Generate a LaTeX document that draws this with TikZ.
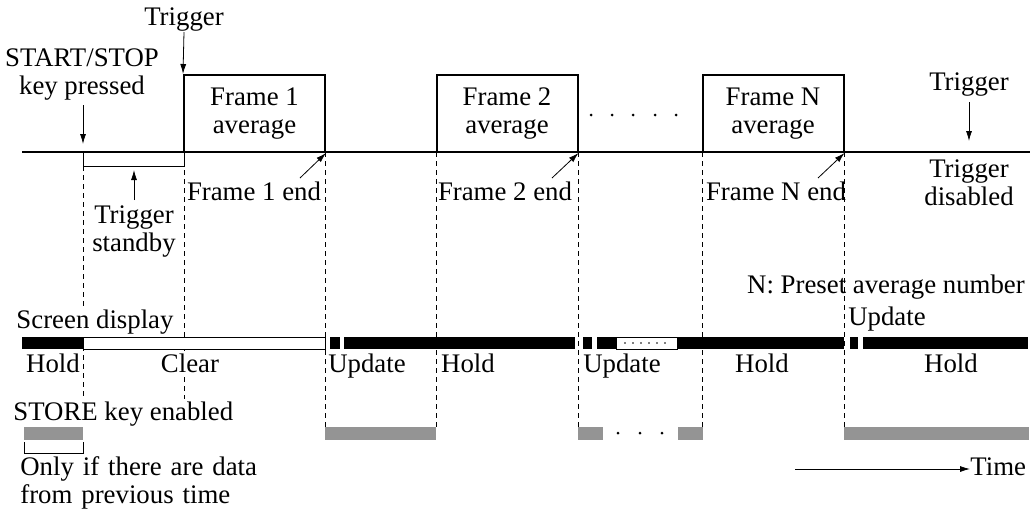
\documentclass[tikz,border=0pt]{standalone}
\usepackage{fontspec}
\setmainfont{Liberation Serif}
\usetikzlibrary{arrows.meta}

\begin{document}
\begin{tikzpicture}[x=0.5pt,y=-0.5pt,>={Latex[length=5pt,width=3pt]},
    font=\fontsize{13.4}{14}\selectfont,
    lbl/.style={inner sep=0pt,align=center},
    wlbl/.style={inner sep=1pt,fill=white},
    frm/.style={draw,line width=1pt,minimum width=70.5pt,minimum height=38.5pt,
      align=center,inner sep=0pt},
    vline/.style={line width=0.5pt,dash pattern=on 2.5pt off 2pt},
    hold/.style={fill=black},
    clr/.style={draw,fill=white,line width=0.5pt},
    store/.style={fill=black!42}]
  \useasboundingbox (0,0) rectangle (1033,510);

  % dashed time marks
  \draw[vline] (83,166) -- (83,405);
  \draw[vline] (184,152) -- (184,405);
  \foreach \x in {325,436,578,702,844}
    \draw[vline] (\x,152) -- (\x,427);

  % trigger line and frames
  \draw[line width=1pt] (22,152) -- (1030,152);
  \node[frm] (f1) at (254.5,113.5) {Frame 1\\average};
  \node[frm] (f2) at (507,113.5) {Frame 2\\average};
  \node[frm] (fN) at (773,113.5) {Frame N\\average};
  \foreach \x in {591,612,633,655,676}
    \fill (\x,115) circle (1.5);

  % labels on top
  \node[lbl,anchor=base] (trg) at (184,25) {Trigger};
  \coordinate (trgs) at (184,32);
  \draw[->] (trgs) -- (f1.north west);
  \node[lbl,anchor=base] (key) at (82,94) {START/STOP\\key pressed};
  \coordinate (keyp) at (83,144);
  \draw[->] (83,105) -- (keyp);
  \node[lbl,anchor=base] (trgN) at (969,90) {Trigger};
  \coordinate (trgNp) at (969,141);
  \draw[->] (969,102) -- (trgNp);
  \node[lbl,anchor=base] (dis) at (969,205) {Trigger\\disabled};

  % trigger standby
  \draw[line width=0.5pt] (83,152) |- (184,166) -- (184,152);
  \coordinate (sb) at (134,170);
  \node[lbl,anchor=base] (stb) at (134,251) {Trigger\\standby};
  \draw[->] (134,200) -- (sb);

  % frame end labels
  \node[lbl,anchor=base] (e1) at (254,200) {Frame 1 end};
  \node[lbl,anchor=base] (e2) at (505,200) {Frame 2 end};
  \node[lbl,anchor=base] (eN) at (776,200) {Frame N end};
  \coordinate (e1a) at (300,178);
  \coordinate (e2a) at (552,178);
  \coordinate (eNa) at (818,178);
  \draw[->] (e1a) -- (f1.south east);
  \draw[->] (e2a) -- (f2.south east);
  \draw[->] (eNa) -- (fN.south east);

  % screen display
  \node[lbl,anchor=base] (prs) at (886,293) {N: Preset average number};
  \node[wlbl,anchor=base] (scr) at (95,328) {Screen display};
  \node[lbl,anchor=base] (upN) at (887,325) {Update};
  \fill[hold] (22,337) rectangle (83,349);
  \draw[clr] (83,337) rectangle (325,349);
  \fill[hold] (330,337) rectangle (340,349);
  \fill[hold] (344,337) rectangle (575,349);
  \fill[hold] (583,337) rectangle (592,349);
  \fill[hold] (597,337) rectangle (616,349);
  \draw[clr] (616,337) rectangle (677,349);
  \foreach \x in {625,633,...,667}
    \fill (\x,343) circle (0.8);
  \fill[hold] (677,337) rectangle (844,349);
  \fill[hold] (850,337) rectangle (858,349);
  \fill[hold] (863,337) rectangle (1028,349);
  \node[lbl,anchor=base] (h0) at (53,372) {Hold};
  \node[wlbl,anchor=base] (clr) at (190,372) {Clear};
  \node[lbl,anchor=base] (u1) at (367,372) {Update};
  \node[lbl,anchor=base] (h1) at (468,372) {Hold};
  \node[lbl,anchor=base] (u2) at (622,372) {Update};
  \node[lbl,anchor=base] (h2) at (762,372) {Hold};
  \node[lbl,anchor=base] (h3) at (951,372) {Hold};

  % store key
  \node[wlbl,anchor=base west] (sto) at (11,420) {STORE key enabled};
  \fill[store] (24,427) rectangle (83,440);
  \fill[store] (325,427) rectangle (436,440);
  \fill[store] (578,427) rectangle (603,440);
  \fill[store] (678,427) rectangle (703,440);
  \fill[store] (844,427) rectangle (1029,440);
  \foreach \x in {618,640,662}
    \fill (\x,433) circle (1.5);
  \draw[line width=0.5pt] (24,442) |- (83,453) -- (83,442);
  \node[inner sep=0pt,anchor=base west,text width=122pt] (only) at (20,475)
    {Only if there are data\linebreak from previous time};

  % time axis
  \node[lbl,anchor=base west] (time) at (970,475) {Time};
  \coordinate (t0) at (795,469);
  \draw[->] (t0) -- (t0 -| time.west);
\end{tikzpicture}
\end{document}
